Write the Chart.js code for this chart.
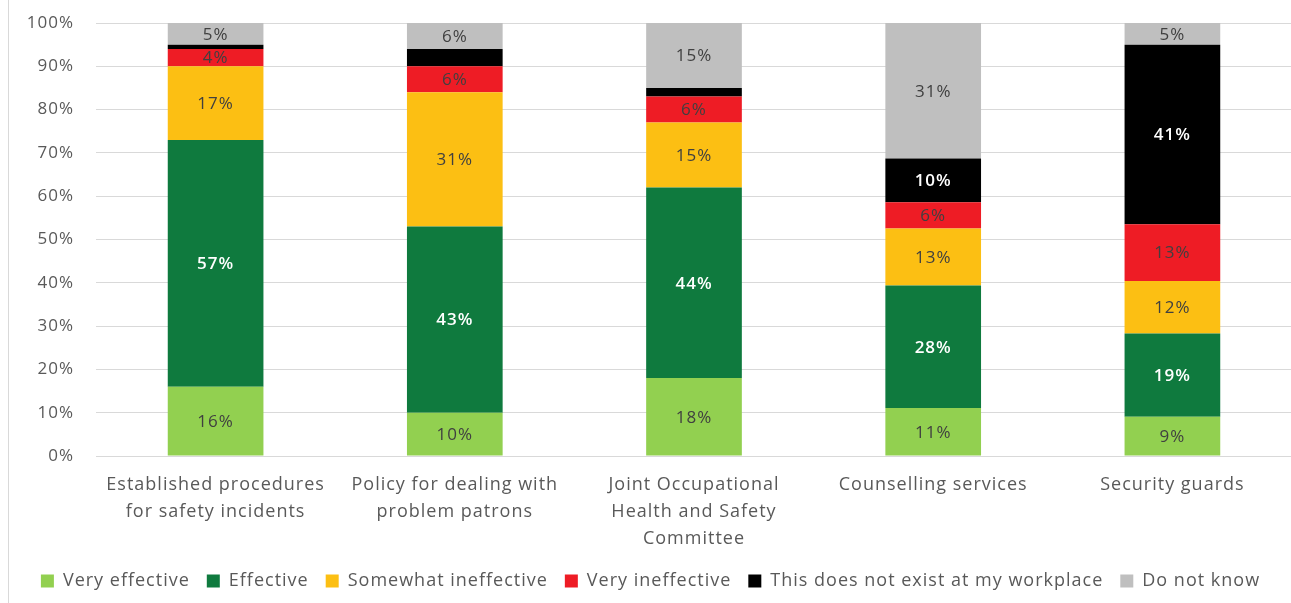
<!DOCTYPE html>
<html>
<head>
<meta charset="utf-8">
<script src="https://cdn.jsdelivr.net/npm/chart.js@4.4.1/dist/chart.umd.min.js"></script>
<style>
  html, body { margin: 0; padding: 0; background: #fff; }
  #wrap { position: absolute; left: 8px; top: 0; width: 1283px; height: 603px; border-left: 1px solid #D9D9D9; }
</style>
</head>
<body>
<div id="wrap"><canvas id="chart"></canvas></div>
<script>
// categories and series (percent of respondents)
const categories = [
  ['Established procedures', 'for safety incidents'],
  ['Policy for dealing with', 'problem patrons'],
  ['Joint Occupational', 'Health and Safety', 'Committee'],
  'Counselling services',
  'Security guards'
];
const seriesNames = ['Very effective', 'Effective', 'Somewhat ineffective', 'Very ineffective',
  'This does not exist at my workplace', 'Do not know'];
const veryEffective = [16, 10, 18, 11, 9];
const effective = [57, 43, 44, 28, 19];
const somewhatIneffective = [17, 31, 15, 13, 12];
const veryIneffective = [4, 6, 6, 6, 13];
const doesNotExist = [1, 4, 2, 10, 41];
const doNotKnow = [5, 6, 15, 31, 5];
const yTicks = [0, 10, 20, 30, 40, 50, 60, 70, 80, 90, 100];

const seriesColors = ['#92D050', '#0F7A3E', '#FCBF13', '#EE1C25', '#000000', '#BFBFBF'];
const labelColors = ['#404040', '#FFFFFF', '#404040', '#404040', '#FFFFFF', '#404040'];
const labelBold = [false, true, false, false, true, false];
// labels that were removed in the original (series index, category index)
const hiddenLabels = [[4, 0], [4, 1], [4, 2]];

const allSeries = [veryEffective, effective, somewhatIneffective, veryIneffective, doesNotExist, doNotKnow];
const totals = categories.map((c, i) => allSeries.reduce((s, arr) => s + arr[i], 0));

const FONT = '"Open Sans", Lato, sans-serif';

const datasets = allSeries.map((arr, k) => ({
  label: seriesNames[k],
  raw: arr,
  data: arr.map((v, i) => v / totals[i] * 100),
  backgroundColor: seriesColors[k],
  borderWidth: 0,
  barPercentage: 0.8,
  categoryPercentage: 0.5
}));

// the original text is set quite loose, widen it a little
const spacing = {
  id: 'spacing',
  beforeUpdate(chart) { chart.ctx.letterSpacing = '1px'; },
  beforeDraw(chart) { chart.ctx.letterSpacing = '1px'; }
};

const barLabels = {
  id: 'barLabels',
  afterDatasetsDraw(chart) {
    const ctx = chart.ctx;
    ctx.save();
    ctx.textAlign = 'center';
    ctx.textBaseline = 'middle';
    chart.data.datasets.forEach((ds, k) => {
      const meta = chart.getDatasetMeta(k);
      if (meta.hidden) return;
      meta.data.forEach((bar, i) => {
        if (hiddenLabels.some(h => h[0] === k && h[1] === i)) return;
        ctx.font = (labelBold[k] ? '600 ' : '') + '17px ' + FONT;
        ctx.fillStyle = labelColors[k];
        ctx.fillText(ds.raw[i] + '%', bar.x, (bar.y + bar.base) / 2 + 1);
      });
    });
    ctx.restore();
  }
};

new Chart(document.getElementById('chart').getContext('2d'), {
  type: 'bar',
  data: { labels: categories, datasets: datasets },
  plugins: [spacing, barLabels],
  options: {
    responsive: true,
    maintainAspectRatio: false,
    animation: false,
    layout: { padding: { top: 23, right: 0, bottom: 3, left: 0 } },
    plugins: {
      legend: {
        position: 'bottom',
        labels: {
          boxWidth: 13,
          boxHeight: 13,
          padding: 17,
          color: '#595959',
          font: { family: FONT, size: 18 }
        }
      },
      tooltip: { enabled: false }
    },
    scales: {
      x: {
        stacked: true,
        grid: { display: false },
        border: { color: '#D9D9D9' },
        ticks: {
          color: '#595959',
          maxRotation: 0,
          autoSkip: false,
          padding: 7,
          font: { family: FONT, size: 18, lineHeight: 1.5 }
        },
        afterFit: axis => { axis.height = 99; }
      },
      y: {
        stacked: true,
        min: 0,
        max: 100,
        afterBuildTicks: axis => { axis.ticks = yTicks.map(v => ({ value: v })); },
        grid: { color: '#D9D9D9', drawTicks: false },
        border: { display: false },
        ticks: {
          color: '#595959',
          padding: 22,
          font: { family: FONT, size: 17 },
          callback: v => v + '%'
        },
        afterFit: axis => {
          axis.width = 87;
          axis.paddingTop = 0;
          axis.paddingBottom = 0;
        }
      }
    }
  }
});
</script>
</body>
</html>
